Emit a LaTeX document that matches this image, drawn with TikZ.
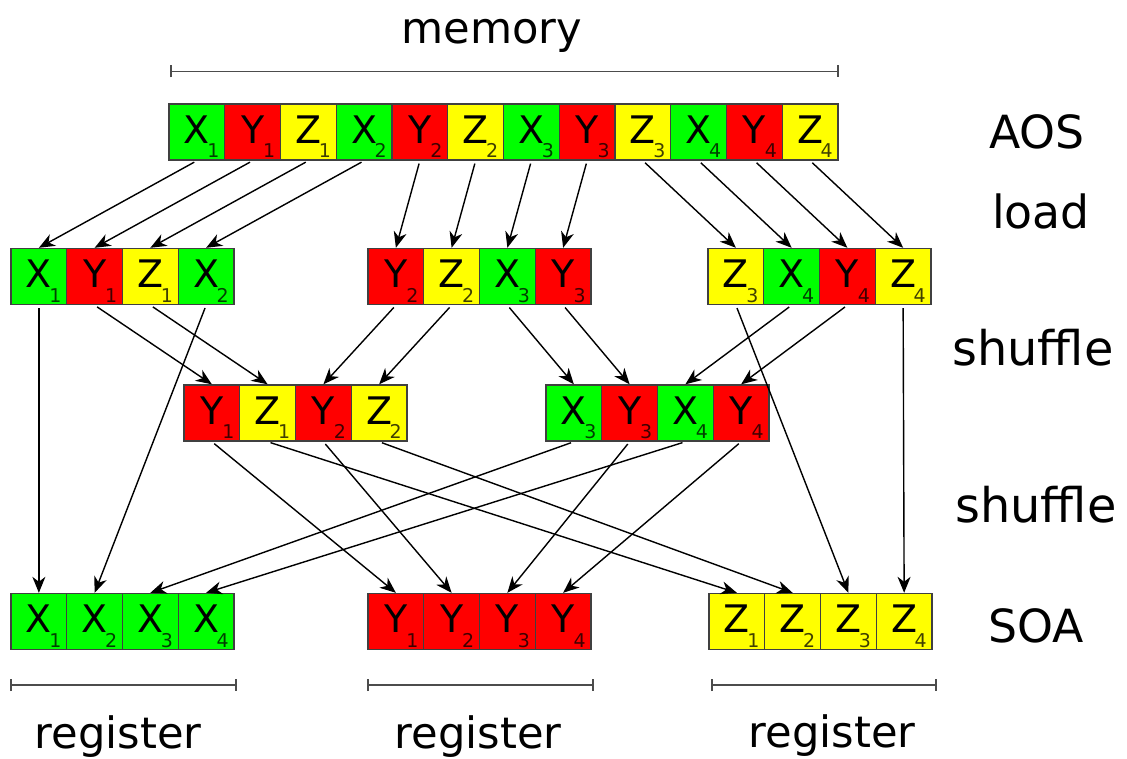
\documentclass[tikz,border=0pt]{standalone}
\usepackage{fontspec}
\setmainfont{DejaVu Sans}
\usetikzlibrary{arrows.meta}
\definecolor{xgreen}{RGB}{0,255,0}
\definecolor{yred}{RGB}{255,0,0}
\definecolor{zyellow}{RGB}{255,255,0}
\tikzset{
  cell/.style={draw=black!75, line width=0.4pt, minimum width=0.5575cm, minimum height=0.56cm, inner sep=0pt, text depth=0.05cm, font=\fontsize{10.8}{12}\selectfont},
  cellX/.style={fill=xgreen},
  cellY/.style={fill=yred},
  cellZ/.style={fill=zyellow},
  sub/.style={anchor=south east, draw=none, fill=none, minimum size=0pt, text depth=0pt, inner xsep=1.5pt, inner ysep=0.7pt, font=\fontsize{5.4}{6}\selectfont, text opacity=0.75},
  move/.style={-{Stealth[length=0.16cm, width=0.13cm, inset=0.05cm]}, line width=0.4pt, shorten <=0.03cm},
  caption/.style={anchor=base, font=\fontsize{13}{15}\selectfont},
  span/.style={{Bar[width=0.12cm]}-{Bar[width=0.12cm]}, line width=0.45pt, draw=black!70},
}
\begin{document}
\begin{tikzpicture}
  \useasboundingbox (0,0) rectangle (11.27,7.58);

  % memory (AOS)
  \foreach \v/\s [count=\j] in {X/1,Y/1,Z/1,X/2,Y/2,Z/2,X/3,Y/3,Z/3,X/4,Y/4,Z/4}
    \node[cell, cell\v, label={[sub]south east:\s}] (m\v\s) at ({1.69+0.5575*(\j-0.5)},6.26) {\v};

  % load
  \foreach \v/\s [count=\j] in {X/1,Y/1,Z/1,X/2}
    \node[cell, cell\v, label={[sub]south east:\s}] (l\v\s) at ({0.11+0.5575*(\j-0.5)},4.815) {\v};
  \foreach \v/\s [count=\j] in {Y/2,Z/2,X/3,Y/3}
    \node[cell, cell\v, label={[sub]south east:\s}] (l\v\s) at ({3.68+0.5575*(\j-0.5)},4.815) {\v};
  \foreach \v/\s [count=\j] in {Z/3,X/4,Y/4,Z/4}
    \node[cell, cell\v, label={[sub]south east:\s}] (l\v\s) at ({7.08+0.5575*(\j-0.5)},4.815) {\v};

  % shuffle
  \foreach \v/\s [count=\j] in {Y/1,Z/1,Y/2,Z/2}
    \node[cell, cell\v, label={[sub]south east:\s}] (s\v\s) at ({1.84+0.5575*(\j-0.5)},3.45) {\v};
  \foreach \v/\s [count=\j] in {X/3,Y/3,X/4,Y/4}
    \node[cell, cell\v, label={[sub]south east:\s}] (s\v\s) at ({5.46+0.5575*(\j-0.5)},3.45) {\v};

  % registers (SOA)
  \foreach \v/\x in {X/0.11,Y/3.68,Z/7.09}
    \foreach \s in {1,...,4}
      \node[cell, cell\v, label={[sub]south east:\s}] (r\v\s) at ({\x+0.5575*(\s-0.5)},1.365) {\v};

  \foreach \p in {X1,Y1,Z1,X2,Y2,Z2,X3,Y3,Z3,X4,Y4,Z4}
    \draw[move] (m\p.south) -- (l\p.north);
  \foreach \p in {Y1,Z1,Y2,Z2,X3,Y3,X4,Y4}
    \draw[move] (l\p.south) -- (s\p.north);
  \foreach \p in {X1,X2,Z3,Z4}
    \draw[move] (l\p.south) -- (r\p.north);
  \foreach \p in {Y1,Z1,Y2,Z2,X3,Y3,X4,Y4}
    \draw[move] (s\p.south) -- (r\p.north);

  % brackets
  \draw[span] ([xshift=0.02cm, yshift=0.32cm]mX1.north west) -- ([yshift=0.32cm]mZ4.north east);
  \draw[span] ([yshift=-0.35cm]rX1.south west) -- ([xshift=0.02cm, yshift=-0.35cm]rX4.south east);
  \draw[span] ([yshift=-0.35cm]rY1.south west) -- ([xshift=0.02cm, yshift=-0.35cm]rY4.south east);
  \draw[span] ([xshift=0.03cm, yshift=-0.35cm]rZ1.south west) -- ([xshift=0.04cm, yshift=-0.35cm]rZ4.south east);

  \node[caption, font=\fontsize{12.3}{15}\selectfont] (memory) at (4.92,7.15) {memory};
  \node[caption] (aos) at (10.37,6.10) {AOS};
  \node[caption] (load) at (10.41,5.30) {load};
  \node[caption, font=\fontsize{13.6}{15}\selectfont] (shuffleA) at (10.33,3.93) {shuffle};
  \node[caption, font=\fontsize{13.6}{15}\selectfont] (shuffleB) at (10.36,2.36) {shuffle};
  \node[caption] (soa) at (10.36,1.16) {SOA};
  \node[caption, font=\fontsize{12.3}{15}\selectfont] (regX) at (1.18,0.10) {register};
  \node[caption, font=\fontsize{12.3}{15}\selectfont] (regY) at (4.78,0.10) {register};
  \node[caption, font=\fontsize{12.3}{15}\selectfont] (regZ) at (8.32,0.11) {register};
\end{tikzpicture}
\end{document}
